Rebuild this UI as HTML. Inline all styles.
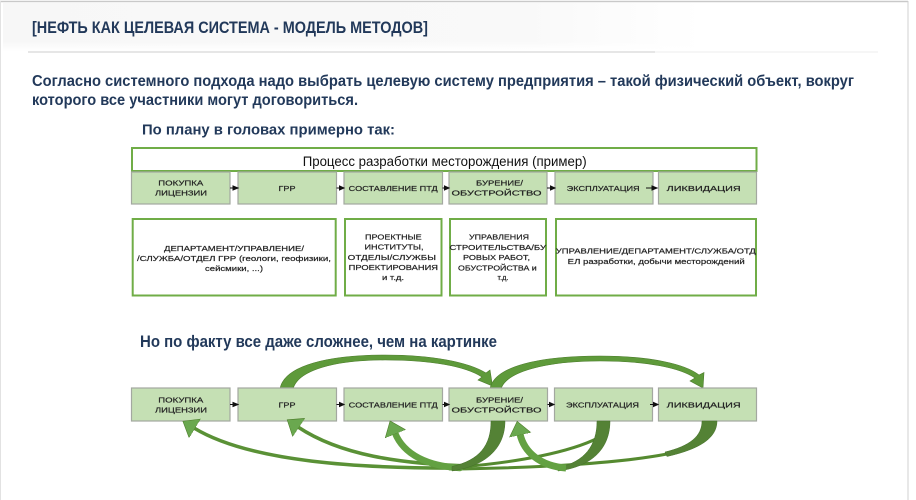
<!DOCTYPE html>
<html>
<head>
<meta charset="utf-8">
<style>
  html, body { margin:0; padding:0; background:#ffffff; }
  body { width:916px; height:500px; overflow:hidden; position:relative; }
  svg { position:absolute; left:0; top:0; }
  .h { font-family:"Liberation Sans", "Noto Sans CJK SC", sans-serif; font-weight:bold; fill:#22395a; }
  .lb { font-family:"Liberation Sans", "DejaVu Sans", sans-serif; font-size:7.5px; fill:#222222; stroke:#222222; stroke-width:0.2; }
  .gb { fill:#c5e0b4; stroke:#a3a8a0; stroke-width:1.2; }
  .wb { fill:#ffffff; stroke:#70ad47; stroke-width:2; }
</style>
</head>
<body>
<svg width="916" height="500" viewBox="0 0 916 500" xmlns="http://www.w3.org/2000/svg">
  <defs>
    <linearGradient id="bgfade" x1="0" y1="0" x2="1" y2="0">
      <stop offset="0" stop-color="#f7f7f7"/>
      <stop offset="0.75" stop-color="#f9f9f9"/>
      <stop offset="1" stop-color="#ffffff"/>
    </linearGradient>
    <linearGradient id="vfade" x1="0" y1="0" x2="0" y2="1">
      <stop offset="0" stop-color="#ffffff" stop-opacity="0"/>
      <stop offset="0.8" stop-color="#ffffff" stop-opacity="0"/>
      <stop offset="1" stop-color="#ffffff" stop-opacity="1"/>
    </linearGradient>
    <marker id="hb" markerUnits="userSpaceOnUse" markerWidth="16" markerHeight="24" refX="1" refY="11" orient="auto">
      <path d="M0,0 L14,11 L0,22 Z" fill="#6aa84f" stroke="#4e7d2c" stroke-width="0.6"/>
    </marker>
  </defs>

  <!-- faint header background -->
  <rect x="3" y="3" width="700" height="48" fill="url(#bgfade)"/>
  <rect x="3" y="3" width="700" height="48" fill="url(#vfade)"/>
  <!-- page border -->
  <line x1="0" y1="1.5" x2="908" y2="1.5" stroke="#c9c9c9" stroke-width="1.5"/>
  <line x1="908" y1="1" x2="908" y2="500" stroke="#d0d0d0" stroke-width="1"/>
  <line x1="0.5" y1="1" x2="0.5" y2="500" stroke="#e2e2e2" stroke-width="1"/>

  <!-- title -->
  <text class="h" x="32" y="33" font-size="17" textLength="396" lengthAdjust="spacingAndGlyphs">[НЕФТЬ КАК ЦЕЛЕВАЯ СИСТЕМА - МОДЕЛЬ МЕТОДОВ]</text>
  <line x1="28" y1="52" x2="655" y2="52" stroke="#d6d6d6" stroke-width="1.2"/>
  <line x1="655" y1="52" x2="878" y2="52" stroke="#ececec" stroke-width="1"/>

  <text class="h" x="32" y="86" font-size="16" textLength="822" lengthAdjust="spacingAndGlyphs">Согласно системного подхода надо выбрать целевую систему предприятия – такой физический объект, вокруг</text>
  <text class="h" x="32" y="105" font-size="16" textLength="326" lengthAdjust="spacingAndGlyphs">которого все участники могут договориться.</text>
  <text class="h" x="142" y="134.5" font-size="15" textLength="253" lengthAdjust="spacingAndGlyphs">По плану в головах примерно так:</text>

  <!-- header process box -->
  <rect class="wb" x="132" y="148" width="624.5" height="23"/>
  <text x="302.7" y="166" font-family="Liberation Sans, sans-serif" font-size="14" fill="#111" textLength="284" lengthAdjust="spacingAndGlyphs">Процесс разработки месторождения (пример)</text>

  <!-- top row green boxes -->
  <rect class="gb" x="131.5" y="172" width="98.5" height="32"/>
  <rect class="gb" x="238" y="172" width="98.5" height="32"/>
  <rect class="gb" x="344" y="172" width="98.5" height="32"/>
  <rect class="gb" x="449" y="172" width="98" height="32"/>
  <rect class="gb" x="555" y="172" width="98" height="32"/>
  <rect class="gb" x="658.5" y="172" width="98" height="32"/>

  <text class="lb" x="158.3" y="185.5" textLength="45" lengthAdjust="spacingAndGlyphs">ПОКУПКА</text>
  <text class="lb" x="155" y="195.5" textLength="52" lengthAdjust="spacingAndGlyphs">ЛИЦЕНЗИИ</text>
  <text class="lb" x="278.5" y="191" textLength="17" lengthAdjust="spacingAndGlyphs">ГРР</text>
  <text class="lb" x="348.7" y="191" textLength="89" lengthAdjust="spacingAndGlyphs">СОСТАВЛЕНИЕ ПТД</text>
  <text class="lb" x="476" y="185.5" textLength="47" lengthAdjust="spacingAndGlyphs">БУРЕНИЕ/</text>
  <text class="lb" x="451.5" y="195.5" textLength="90" lengthAdjust="spacingAndGlyphs">ОБУСТРОЙСТВО</text>
  <text class="lb" x="566.7" y="191" textLength="73" lengthAdjust="spacingAndGlyphs">ЭКСПЛУАТАЦИЯ</text>
  <text class="lb" x="666.7" y="191" textLength="74" lengthAdjust="spacingAndGlyphs">ЛИКВИДАЦИЯ</text>

  <!-- small connector arrows top row -->
  <g stroke="#111" stroke-width="1" fill="#111">
    <line x1="230" y1="188" x2="234" y2="188"/><polygon points="233,186 238,188 233,190"/>
    <line x1="336.5" y1="188" x2="340" y2="188"/><polygon points="339.5,186 344,188 339.5,190"/>
    <line x1="442.5" y1="188" x2="445" y2="188"/><polygon points="444.5,186 449,188 444.5,190"/>
    <line x1="547" y1="188" x2="551" y2="188"/><polygon points="550.5,186 555,188 550.5,190"/>
    <line x1="646" y1="188" x2="652" y2="188"/><polygon points="652,186 657,188 652,190"/>
  </g>

  <!-- lower white boxes -->
  <rect class="wb" x="132.7" y="219" width="203" height="76.5"/>
  <rect class="wb" x="345" y="219" width="96.5" height="76.5"/>
  <rect class="wb" x="450" y="219" width="96" height="76.5"/>
  <rect class="wb" x="556" y="219" width="200" height="76.5"/>

  <text class="lb" x="164" y="251" textLength="140" lengthAdjust="spacingAndGlyphs">ДЕПАРТАМЕНТ/УПРАВЛЕНИЕ/</text>
  <text class="lb" x="137" y="261" textLength="194" lengthAdjust="spacingAndGlyphs">/СЛУЖБА/ОТДЕЛ ГРР (геологи, геофизики,</text>
  <text class="lb" x="205" y="271" textLength="58" lengthAdjust="spacingAndGlyphs">сейсмики, ...)</text>

  <text class="lb" x="365" y="239.5" textLength="56.7" lengthAdjust="spacingAndGlyphs">ПРОЕКТНЫЕ</text>
  <text class="lb" x="364.5" y="249.7" textLength="59" lengthAdjust="spacingAndGlyphs">ИНСТИТУТЫ,</text>
  <text class="lb" x="347.7" y="260" textLength="88.3" lengthAdjust="spacingAndGlyphs">ОТДЕЛЫ/СЛУЖБЫ</text>
  <text class="lb" x="348.7" y="270" textLength="89.3" lengthAdjust="spacingAndGlyphs">ПРОЕКТИРОВАНИЯ</text>
  <text class="lb" x="382" y="280" textLength="22" lengthAdjust="spacingAndGlyphs">и т.д.</text>

  <text class="lb" x="469" y="239.5" textLength="60" lengthAdjust="spacingAndGlyphs">УПРАВЛЕНИЯ</text>
  <text class="lb" x="449.5" y="250" textLength="96.5" lengthAdjust="spacingAndGlyphs">СТРОИТЕЛЬСТВА/БУ</text>
  <text class="lb" x="463" y="260" textLength="67" lengthAdjust="spacingAndGlyphs">РОВЫХ РАБОТ,</text>
  <text class="lb" x="458" y="270.5" textLength="78.7" lengthAdjust="spacingAndGlyphs">ОБУСТРОЙСТВА и</text>
  <text class="lb" x="497.5" y="280" textLength="11" lengthAdjust="spacingAndGlyphs">т.д.</text>

  <text class="lb" x="555.8" y="253.5" textLength="200" lengthAdjust="spacingAndGlyphs">УПРАВЛЕНИЕ/ДЕПАРТАМЕНТ/СЛУЖБА/ОТД</text>
  <text class="lb" x="567.7" y="264" textLength="177" lengthAdjust="spacingAndGlyphs">ЕЛ разработки, добычи месторождений</text>

  <!-- second heading -->
  <text class="h" x="140" y="347" font-size="16.5" textLength="357" lengthAdjust="spacingAndGlyphs">Но по факту все даже сложнее, чем на картинке</text>

  <!-- top curved arrows -->
  <path d="M280,389 C284,365 330,355 385,355 C432,355 468,362 486,373 L490,370 L492.5,386 L478,380 L482,377 C465,366 430,360 385,360 C335,360 298,370 293,389 Z" fill="#5e9a3a" stroke="#4a7a2a" stroke-width="0.6"/>
  <path d="M490,389 C494,366 540,356 600,356 C650,356 685,364 699,375 L704,372.5 L703,388 L690,381 L695,378 C680,368 648,361 600,361 C545,361 506,372 501,389 Z" fill="#5e9a3a" stroke="#4a7a2a" stroke-width="0.6"/>

  <!-- bottom row green boxes -->
  <rect class="gb" x="131.5" y="388" width="98.5" height="33"/>
  <rect class="gb" x="238" y="388" width="98.5" height="33"/>
  <rect class="gb" x="344" y="388" width="98.5" height="33"/>
  <rect class="gb" x="449" y="388" width="98.5" height="33"/>
  <rect class="gb" x="554.5" y="388" width="98" height="33"/>
  <rect class="gb" x="658.5" y="388" width="98" height="33"/>

  <text class="lb" x="158.3" y="402.5" textLength="45" lengthAdjust="spacingAndGlyphs">ПОКУПКА</text>
  <text class="lb" x="155" y="412.5" textLength="52" lengthAdjust="spacingAndGlyphs">ЛИЦЕНЗИИ</text>
  <text class="lb" x="278.5" y="407.5" textLength="17" lengthAdjust="spacingAndGlyphs">ГРР</text>
  <text class="lb" x="348.7" y="407.5" textLength="89" lengthAdjust="spacingAndGlyphs">СОСТАВЛЕНИЕ ПТД</text>
  <text class="lb" x="476" y="402.5" textLength="47" lengthAdjust="spacingAndGlyphs">БУРЕНИЕ/</text>
  <text class="lb" x="451.5" y="412.5" textLength="90" lengthAdjust="spacingAndGlyphs">ОБУСТРОЙСТВО</text>
  <text class="lb" x="566" y="407.5" textLength="73" lengthAdjust="spacingAndGlyphs">ЭКСПЛУАТАЦИЯ</text>
  <text class="lb" x="666.7" y="407.5" textLength="74" lengthAdjust="spacingAndGlyphs">ЛИКВИДАЦИЯ</text>

  <!-- small connector arrows bottom row -->
  <g stroke="#111" stroke-width="1" fill="#111">
    <line x1="230" y1="404.5" x2="234" y2="404.5"/><polygon points="233,402.5 238,404.5 233,406.5"/>
    <line x1="336.5" y1="404.5" x2="340" y2="404.5"/><polygon points="339.5,402.5 344,404.5 339.5,406.5"/>
    <line x1="442.5" y1="404.5" x2="445" y2="404.5"/><polygon points="444.5,402.5 449,404.5 444.5,406.5"/>
    <line x1="547.5" y1="404.5" x2="550" y2="404.5"/><polygon points="549.5,402.5 554,404.5 549.5,406.5"/>
    <line x1="650" y1="404.5" x2="654" y2="404.5"/><polygon points="653.5,402.5 658,404.5 653.5,406.5"/>
  </g>

  <!-- bottom curved arrows -->
  <g fill="none" stroke-linecap="round">
    <path d="M470,468 C360,469 250,462 194,428" stroke="#5a9136" stroke-width="3.5" marker-end="url(#hb)"/>
    <path d="M470,466 C400,464 340,455 298,427" stroke="#5a9136" stroke-width="3.5" marker-end="url(#hb)"/>
    <path d="M598,438 C570,452 520,462 460,467" stroke="#558a30" stroke-width="3"/>
    <path d="M667,454 C620,463 540,468 450,469" stroke="#558a30" stroke-width="3"/>
    <path d="M460,468 C428,466 404,455 395,433" stroke="#63a142" stroke-width="6.5" marker-end="url(#hb)"/>
  </g>
  <path d="M491,421 C491,445 480,460 452,466.5 L452,471 C486,466 505,448 505,421 Z" fill="#548235" stroke="#44702a" stroke-width="0.5"/>
  <path d="M597,421 C597,445 585,462 558,467.5 L558,471 C590,467 610,450 610,421 Z" fill="#548235" stroke="#44702a" stroke-width="0.5"/>
  <path d="M702,421 C702,436 690,446 665,452 L667,456.5 C700,449 717,438 717,421 Z" fill="#548235" stroke="#44702a" stroke-width="0.5"/>
  <g fill="none">
    <path d="M566,468 C540,466 524,452 520,434" stroke="#63a142" stroke-width="7" marker-end="url(#hb)"/>
  </g>
</svg>
</body>
</html>
